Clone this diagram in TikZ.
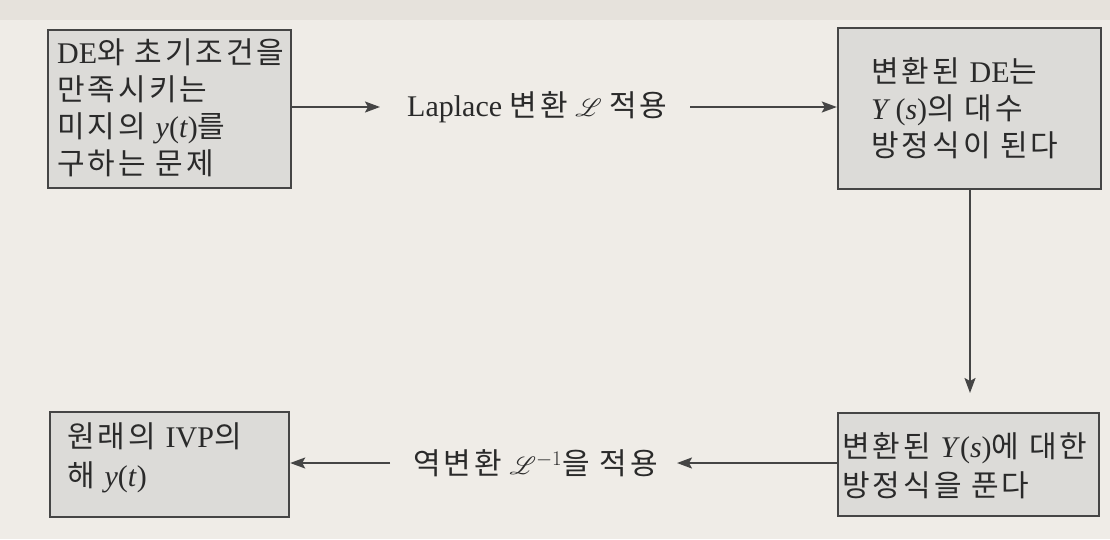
\documentclass[tikz,border=0pt]{standalone}
\usepackage{fontspec}
\usepackage{mathrsfs}
\setmainfont{Liberation Serif}
\newfontfamily\kr[Scale=1.0,LetterSpace=10]{Noto Sans CJK KR}
\usetikzlibrary{arrows.meta}
\definecolor{bgc}{HTML}{EFECE7}
\definecolor{bandc}{HTML}{E6E2DC}
\definecolor{boxfill}{HTML}{DCDBD8}
\definecolor{boxline}{HTML}{454545}
\definecolor{ink}{HTML}{2A2A2A}
\tikzset{
  box/.style={draw=boxline, fill=boxfill, line width=2.4pt, inner sep=0pt},
  txt/.style={text=ink, align=left, inner sep=0pt, anchor=west,
    font=\fontsize{30}{37}\selectfont},
  txtb/.style={txt, font=\fontsize{30}{39}\selectfont},
  lbl/.style={text=ink, inner sep=0pt, font=\fontsize{30}{35}\selectfont},
  arr/.style={draw=boxline, line width=2pt, -{Stealth[length=15pt,width=11pt,inset=3pt]}}
}
\begin{document}
\begin{tikzpicture}[x=1pt,y=-1pt]
\fill[bgc] (0,0) rectangle (1110,539);
\useasboundingbox (0,0) rectangle (1110,539);
\fill[bandc] (0,0) rectangle (1110,20);
% boxes
\node[box, minimum width=243pt, minimum height=158pt] (b1) at (169.5,109) {};
\node[box, minimum width=263pt, minimum height=161pt] (b2) at (969.5,108.5) {};
\node[box, minimum width=261pt, minimum height=103pt] (b3) at (968.5,464.5) {};
\node[box, minimum width=239pt, minimum height=105pt] (b4) at (169.5,464.5) {};
% texts
\node[txt] (t1) at (57,108) {DE{\kr 와 초기조건을}\\{\kr 만족시키는}\\{\kr 미지의 }\textit{y}(\textit{t}){\kr 를}\\{\kr 구하는 문제}};
\node[txt] (t2) at (871,108) {{\kr 변환된 }DE{\kr 는}\\\textit{Y}\,(\textit{s}){\kr 의 대수}\\{\kr 방정식이 된다}};
\node[txtb] (t3) at (842,466) {{\kr 변환된 }\textit{Y}(\textit{s}){\kr 에 대한}\\{\kr 방정식을 푼다}};
\node[txtb] (t4) at (67,458) {{\kr 원래의 }IVP{\kr 의}\\{\kr 해 }\textit{y}(\textit{t})};
% labels
\node[lbl, anchor=west] (lap) at (407,107) {Laplace {\kr 변환} $\mathscr{L}$ {\kr 적용}};
\node[lbl, anchor=west] (inv) at (413,463) {{\kr 역변환} $\mathscr{L}^{-1}${\kr 을 적용}};
% connectors
\coordinate (a1) at (380,107);
\coordinate (a2) at (690,107);
\coordinate (a3) at (970,393);
\coordinate (a4) at (677,463);
\coordinate (a5) at (390,463);
\draw[arr] (b1.east |- a1) -- (a1);
\draw[arr] (a2) -- (b2.west |- a2);
\draw[arr] (b2.south -| a3) -- (a3);
\draw[arr] (b3.west |- a4) -- (a4);
\draw[arr] (a5) -- (b4.east |- a5);
\end{tikzpicture}
\end{document}
